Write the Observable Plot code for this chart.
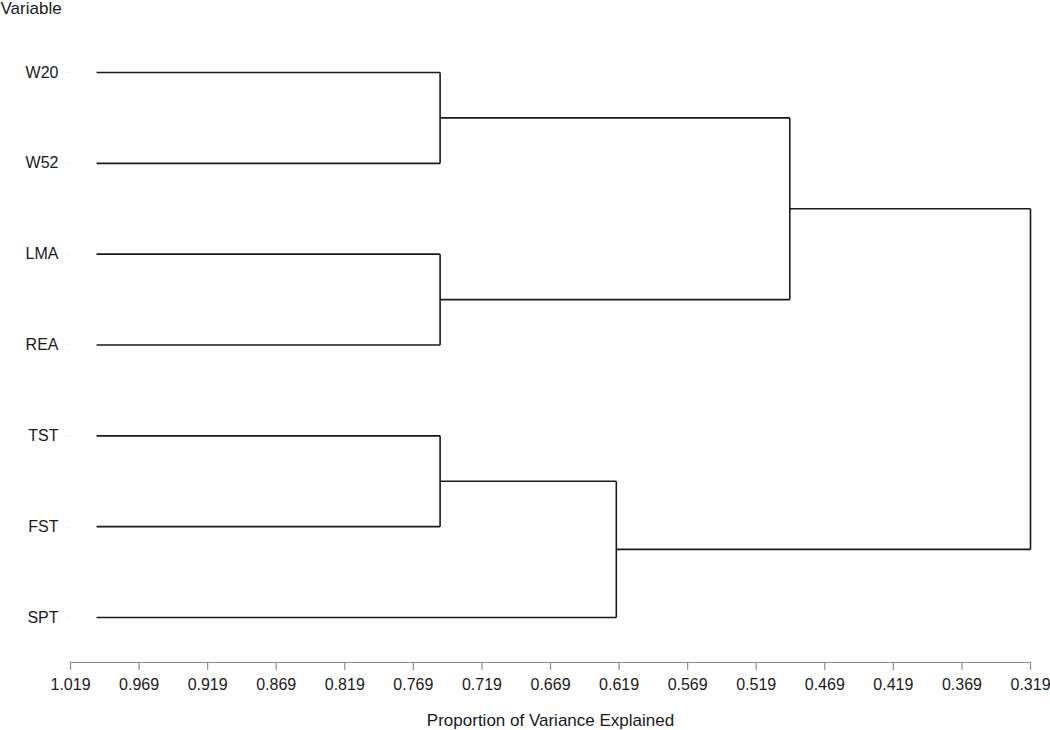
<!DOCTYPE html>
<html>
<head>
<meta charset="utf-8">
<script src="https://cdn.jsdelivr.net/npm/d3@7"></script>
<script src="https://cdn.jsdelivr.net/npm/@observablehq/plot@0.6"></script>
<style>
  html, body { margin: 0; padding: 0; background: #fff; }
  #chart svg { display: block; font-family: "Liberation Sans", Arial, sans-serif; }
</style>
</head>
<body>
<div id="chart"></div>
<script>
// Leaf order (top to bottom)
const variables = ["W20", "W52", "LMA", "REA", "TST", "FST", "SPT"];
// Proportion of variance explained for single-variable clusters
const leafValue = 1.0;
// Merges: left child, right child, resulting node name, proportion of variance explained
const mergeLeft  = ["W20", "LMA", "TST", "C1", "C3", "C4"];
const mergeRight = ["W52", "REA", "FST", "C2", "SPT", "C5"];
const mergeNode  = ["C1",  "C2",  "C3",  "C4", "C5",  "C6"];
const mergeValue = [0.7495, 0.7495, 0.7495, 0.4945, 0.621, 0.319];
// Axis ticks
const xTicks = [1.019, 0.969, 0.919, 0.869, 0.819, 0.769, 0.719, 0.669, 0.619, 0.569, 0.519, 0.469, 0.419, 0.369, 0.319];

// Build node positions
const nodeY = new Map(variables.map((v, i) => [v, i]));
const nodeX = new Map(variables.map(v => [v, leafValue]));
const segments = [];
mergeNode.forEach((n, i) => {
  const a = mergeLeft[i], b = mergeRight[i], v = mergeValue[i];
  const ya = nodeY.get(a), yb = nodeY.get(b);
  segments.push({x1: nodeX.get(a), x2: v, y1: ya, y2: ya});
  segments.push({x1: nodeX.get(b), x2: v, y1: yb, y2: yb});
  segments.push({x1: v, x2: v, y1: ya, y2: yb});
  nodeY.set(n, (ya + yb) / 2);
  nodeX.set(n, v);
});

const W = 1050, H = 730;
const chart = Plot.plot({
  width: W,
  height: H,
  marginLeft: 70,
  marginRight: 20,
  marginTop: 0,
  marginBottom: 68,
  style: {fontFamily: "'Liberation Sans', Arial, sans-serif", fontSize: "16px", color: "#1a1a1a", background: "#fff"},
  x: {domain: [1.019, 0.319], axis: null},
  y: {domain: [0, variables.length - 1], range: [72, 617], axis: null},
  marks: [
    Plot.frame({anchor: "bottom", stroke: "#8f8f8f", strokeWidth: 1.2}),
    Plot.axisX({
      ticks: xTicks, tickSize: 8, tickPadding: 8, stroke: "#8f8f8f", strokeWidth: 1.2,
      fill: "#1a1a1a", fontSize: 16, tickFormat: d3.format(".3f"), label: null
    }),
    Plot.axisY({
      ticks: d3.range(variables.length), tickSize: 3, tickPadding: 9,
      stroke: "#e6e6e6", fill: "#1a1a1a", fontSize: 16,
      tickFormat: i => variables[i], label: null
    }),
    Plot.link(segments, {x1: "x1", x2: "x2", y1: "y1", y2: "y2", stroke: "#1a1a1a", strokeWidth: 1.6}),
    Plot.text(["Variable"], {frameAnchor: "top-left", dx: -70, dy: 1, textAnchor: "start", fontSize: 17, fill: "#1a1a1a"}),
    Plot.text(["Proportion of Variance Explained"], {frameAnchor: "bottom", dy: 63, fontSize: 17, fill: "#1a1a1a"})
  ]
});
document.getElementById("chart").append(chart);
</script>
</body>
</html>
